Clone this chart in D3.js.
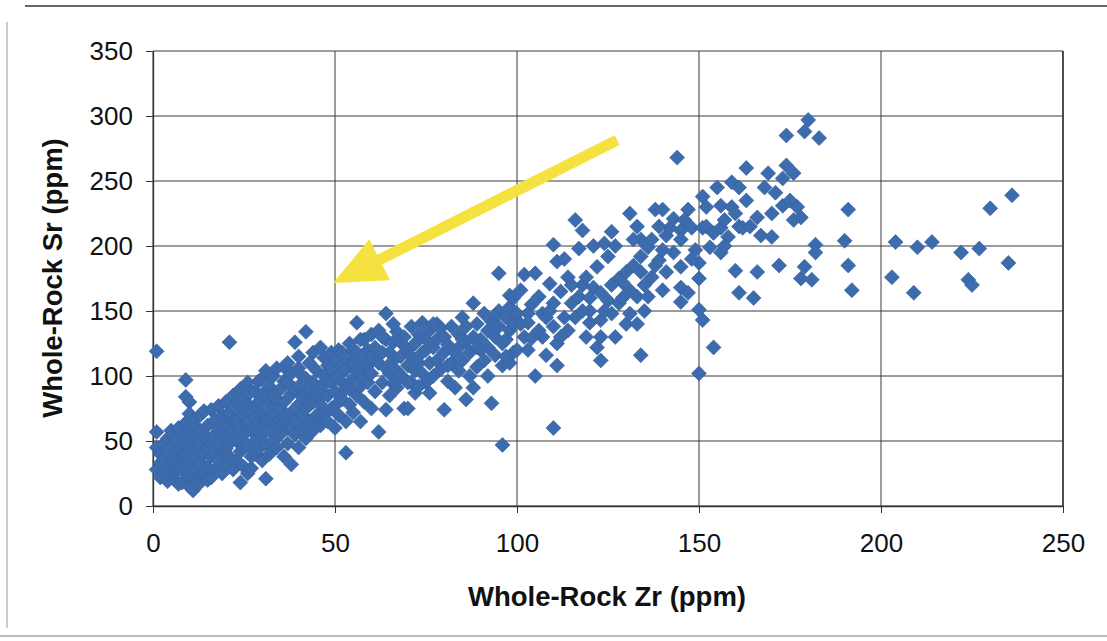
<!DOCTYPE html>
<html>
<head>
<meta charset="utf-8">
<title>Whole-Rock Sr vs Zr</title>
<style>
  body { margin: 0; background: #fff; }
  svg { display: block; }
</style>
</head>
<body>
<div id="chart"></div>
<script src="https://cdnjs.cloudflare.com/ajax/libs/d3/7.8.5/d3.min.js"></script>
<script>
// Zr (x) / Sr (y) samples, ppm
var lowZr = [
  [1,119],[1,57],[1,28],[1,45],[2,40],[2,33],[2,22],[3,48],[3,26],[3,36],[4,52],[4,30],[4,19],[4,42],
  [5,25],[5,45],[5,58],[5,35],[6,20],[6,35],[6,50],[6,28],[7,28],[7,42],[7,60],[7,17],[8,18],[8,32],
  [8,47],[8,55],[8,38],[9,25],[9,38],[9,64],[9,97],[9,84],[9,50],[10,80],[10,71],[10,15],[10,30],[10,45],
  [10,58],[10,23],[11,12],[11,22],[11,36],[11,52],[11,65],[12,28],[12,42],[12,60],[12,18],[13,18],[13,33],
  [13,48],[13,58],[13,70],[14,25],[14,40],[14,73],[14,53],[15,30],[15,52],[15,62],[15,20],[15,44],
  [16,22],[16,38],[16,48],[16,74],[17,28],[17,55],[17,66],[17,40],[18,35],[18,48],[18,60],[18,77],
  [19,25],[19,42],[19,70],[19,55],[20,32],[20,52],[20,63],[20,80],[20,44],[21,126],[21,38],[21,48],
  [21,72],[22,28],[22,58],[22,85],[22,66],[23,35],[23,50],[23,66],[23,78],[24,18],[24,42],[24,60],
  [24,90],[24,72],[25,30],[25,55],[25,70],[25,82],[25,46],[26,25],[26,47],[26,64],[26,95],[26,78],
  [27,29],[27,38],[27,58],[27,75],[27,88],[28,50],[28,68],[28,88],[28,40],[29,44],[29,62],[29,80],
  [29,96],[30,35],[30,55],[30,72],[30,98],[30,86],[31,21],[31,48]
];
var midLowZr = [
  [31,65],[31,85],[31,104],[32,40],[32,58],[32,78],[32,92],[33,50],[33,70],[33,100],[33,84],[34,45],
  [34,62],[34,82],[34,106],[35,55],[35,75],[35,90],[35,66],[36,107],[36,38],[36,68],[36,80],[36,96],
  [37,48],[37,60],[37,95],[37,110],[38,32],[38,72],[38,86],[38,102],[38,60],[39,55],[39,66],[39,126],
  [39,90],[40,106],[40,45],[40,78],[40,92],[40,115],[41,60],[41,70],[41,84],[41,100],[42,134],[42,52],
  [42,75],[42,98],[42,88],[43,65],[43,88],[43,110],[43,78],[44,58],[44,80],[44,95],[44,118],[45,70],
  [45,85],[45,104],[45,62],[46,122],[46,62],[46,78],[46,92],[47,114],[47,70],[47,100],[47,86],[48,65],
  [48,85],[48,108],[48,96],[49,75],[49,95],[49,118],[50,60],[50,88],[50,112],[50,102],[51,120],[51,70],
  [51,100],[51,80],[52,82],[52,95],[52,118],[52,108],[53,41],[53,65],[53,105],[53,90],[54,78],[54,90],
  [54,125],[54,112],[55,72],[55,98],[55,110],[55,120],[56,141],[56,85],[56,118],[56,104],[57,65],[57,92],
  [57,105],[57,128],[58,80],[58,112],[58,128],[58,98],[59,95],[59,120],[59,108],[60,75],[60,102],[60,132],
  [60,115]
];
var midZr = [
  [62,57],[61,88],[61,122],[62,110],[62,135],[63,95],[63,118],[64,148],[64,74],[64,106],[64,128],[65,102],
  [65,118],[65,85],[66,126],[66,112],[66,94],[67,91],[67,134],[67,104],[68,126],[68,115],[69,75],[69,98],
  [69,130],[70,75],[70,108],[70,120],[71,115],[71,138],[71,95],[72,87],[72,125],[72,104],[73,110],[73,132],
  [74,141],[74,102],[74,118],[75,120],[75,128],[75,95],[76,87],[76,110],[76,135],[77,100],[77,122],[78,128],
  [78,112],[78,140],[79,137],[79,105],[80,74],[80,118],[80,130],[81,96],[81,124],[82,110],[82,138],[83,91],
  [83,118],[84,122],[84,132],[84,104],[85,145],[85,112],[86,82],[86,126],[86,138],[87,118],[87,100],[88,91],
  [88,156],[88,130],[89,107],[89,140],[90,120],[90,128],[91,148],[91,112],[92,135],[92,122],[93,79],[93,142],
  [94,130],[94,116],[95,179],[95,138],[95,150],[96,108],[96,47],[96,125],[97,128],[97,145],[98,162],[98,135],
  [98,110],[98,153],[99,118],[99,140],[100,120],[100,148],[63,130],[68,100],[73,92],[77,140],[81,108],
  [85,128],[89,122],[92,100],[94,146],[97,115],[99,160],[66,140],[70,95]
];
var midHighZr = [
  [101,166],[102,178],[102,130],[103,148],[103,141],[104,129],[104,155],[105,100],[105,179],[106,161],
  [107,130],[107,148],[108,145],[108,116],[109,171],[110,60],[110,138],[110,156],[110,201],[111,108],
  [111,188],[111,125],[112,165],[113,145],[114,135],[114,176],[115,156],[116,145],[116,220],[117,161],
  [117,198],[118,212],[118,170],[119,130],[119,176],[120,141],[120,150],[121,168],[122,122],[122,184],
  [123,112],[123,130],[123,143],[123,164],[124,202],[125,158],[125,192],[126,211],[126,148],[127,130],
  [128,156],[128,175],[129,172],[130,140],[131,148],[131,166],[131,225],[132,185],[133,215],[133,161],
  [134,192],[134,116],[134,205],[135,170],[135,150],[101,140],[103,120],[106,135],[109,150],[112,130],
  [113,190],[115,170],[118,150],[120,160],[121,200],[124,150],[126,170],[127,200],[129,160],[130,180],
  [132,205],[133,140],[134,180]
];
var highZr = [
  [136,161],[136,199],[137,176],[138,228],[138,185],[139,189],[140,228],[140,166],[140,197],[141,208],
  [142,214],[143,221],[144,268],[145,168],[145,157],[145,184],[145,212],[145,205],[147,228],[147,164],
  [148,214],[149,197],[150,175],[150,151],[150,102],[150,187],[151,143],[151,238],[151,214],[152,215],
  [153,199],[154,122],[156,231],[156,214],[156,195],[157,220],[158,207],[159,249],[159,230],[160,181],
  [161,245],[161,164],[161,215],[162,214],[163,260],[165,160],[166,222],[166,180],[167,208],[169,256],
  [170,207],[171,241],[172,185],[173,252],[173,231],[174,262],[174,285],[176,256],[176,220],[177,230],
  [178,222],[179,288],[179,184],[178,175],[180,297],[181,174],[182,201],[182,195],[183,283],[190,204],
  [191,228],[191,185],[192,166],[203,176],[204,203],[209,164],[210,199],[214,203],[222,195],[224,174],
  [225,170],[227,198],[230,229],[235,187],[236,239],[137,205],[139,215],[141,180],[143,195],[146,220],
  [148,190],[152,230],[154,210],[155,245],[157,200],[160,225],[163,235],[164,215],[168,245],[170,225],
  [175,235]
];

var xTicks = [0, 50, 100, 150, 200, 250];
var yTicks = [0, 50, 100, 150, 200, 250, 300, 350];
var xTitle = "Whole-Rock Zr (ppm)";
var yTitle = "Whole-Rock Sr (ppm)";
// yellow arrow annotation, in data units: tail then tip
var arrowTail = [127.5, 281.5];
var arrowTip = [49.5, 171.5];

var W = 1107, H = 641;
var plotL = 153, plotR = 1063, plotT = 51, plotB = 506;
var pts = lowZr.concat(midLowZr, midZr, midHighZr, highZr);

var svg = d3.select("#chart").append("svg")
    .attr("width", W)
    .attr("height", H);

svg.append("rect").attr("width", W).attr("height", H).attr("fill", "#fff");

// scan frame
svg.append("line").attr("x1", 25).attr("x2", W).attr("y1", 6).attr("y2", 6)
   .attr("stroke", "#333").attr("stroke-width", 1.5);
svg.append("line").attr("x1", 7).attr("x2", 7).attr("y1", 22).attr("y2", 628)
   .attr("stroke", "#999").attr("stroke-width", 1);
svg.append("line").attr("x1", 0).attr("x2", W).attr("y1", 636).attr("y2", 636)
   .attr("stroke", "#bbb").attr("stroke-width", 2);

var x = d3.scaleLinear().domain([0, 250]).range([plotL, plotR]);
var y = d3.scaleLinear().domain([0, 350]).range([plotB, plotT]);

// gridlines
svg.append("g").selectAll("line").data(yTicks).enter().append("line")
   .attr("x1", plotL).attr("x2", plotR)
   .attr("y1", d => y(d)).attr("y2", d => y(d))
   .attr("stroke", "#3a3a3a").attr("stroke-width", 1);
svg.append("g").selectAll("line").data(xTicks).enter().append("line")
   .attr("x1", d => x(d)).attr("x2", d => x(d))
   .attr("y1", plotT).attr("y2", plotB)
   .attr("stroke", "#3a3a3a").attr("stroke-width", d => d == 250 ? 1.8 : 1);

var xAxis = svg.append("g")
   .attr("transform", "translate(0," + plotB + ")")
   .call(d3.axisBottom(x).tickValues(xTicks).tickSize(7).tickSizeOuter(0).tickPadding(21));
var yAxis = svg.append("g")
   .attr("transform", "translate(" + plotL + ",0)")
   .call(d3.axisLeft(y).tickValues(yTicks).tickSize(7).tickSizeOuter(0).tickPadding(13));

[xAxis, yAxis].forEach(function (g) {
  g.select(".domain").attr("stroke", "#333").attr("stroke-width", 1.3);
  g.selectAll(".tick line").attr("stroke", "#333");
  g.selectAll("text")
   .attr("font-family", "Arial, 'Liberation Sans', sans-serif")
   .attr("font-size", "26px")
   .attr("fill", "#111");
});

// points: small squares turned 45 degrees
var diamond = d3.symbol().type(d3.symbolSquare).size(112);
svg.append("g").selectAll("path").data(pts).enter().append("path")
   .attr("d", diamond)
   .attr("transform", d => "translate(" + x(d[0]) + "," + y(d[1]) + ") rotate(45)")
   .attr("fill", "#3d6cae")
   .attr("stroke", "#34609e")
   .attr("stroke-width", 0.6);

// arrow
var tx = x(arrowTail[0]), ty = y(arrowTail[1]);
var hx = x(arrowTip[0]), hy = y(arrowTip[1]);
var len = Math.hypot(hx - tx, hy - ty);
var ux = (hx - tx) / len, uy = (hy - ty) / len;
var nx = -uy, ny = ux;
var headLen = 52, headHalf = 23, shaft = 5.5;
var bx = hx - ux * headLen, by = hy - uy * headLen;
var arrow = [
  [tx + nx * shaft, ty + ny * shaft],
  [bx + nx * shaft, by + ny * shaft],
  [bx + nx * headHalf, by + ny * headHalf],
  [hx, hy],
  [bx - nx * headHalf, by - ny * headHalf],
  [bx - nx * shaft, by - ny * shaft],
  [tx - nx * shaft, ty - ny * shaft]
];
svg.append("path")
   .attr("d", d3.line()(arrow) + "Z")
   .attr("fill", "#f6e23e");

// axis titles
svg.append("text")
   .attr("x", 607).attr("y", 606)
   .attr("text-anchor", "middle")
   .attr("font-family", "Arial, 'Liberation Sans', sans-serif")
   .attr("font-weight", "bold")
   .attr("font-size", "27.5px")
   .attr("fill", "#111")
   .text(xTitle);
svg.append("text")
   .attr("transform", "translate(62,278) rotate(-90)")
   .attr("text-anchor", "middle")
   .attr("font-family", "Arial, 'Liberation Sans', sans-serif")
   .attr("font-weight", "bold")
   .attr("font-size", "27.5px")
   .attr("fill", "#111")
   .text(yTitle);
</script>
</body>
</html>
